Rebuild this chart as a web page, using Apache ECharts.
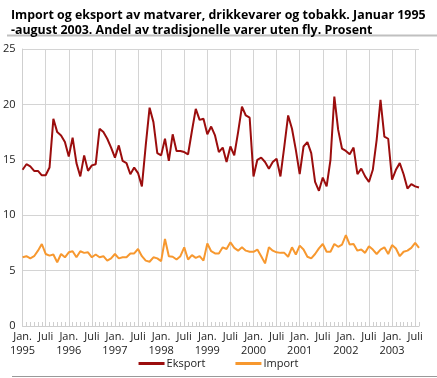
<!DOCTYPE html>
<html>
<head>
<meta charset="utf-8">
<script src="https://cdn.jsdelivr.net/npm/echarts@6/dist/echarts.min.js"></script>
<style>
html,body{margin:0;padding:0;background:#fff;}
#chart{width:437px;height:378px;}
</style>
</head>
<body>
<div id="chart"></div>
<script>
var years = ['1995','1996','1997','1998','1999','2000','2001','2002','2003'];
var monthsShort = ['Jan.','Feb.','Mars','April','Mai','Juni','Juli','Aug.','Sep.','Okt.','Nov.','Des.'];
var seriesNames = ['Eksport','Import'];

var eksport = [
  14.1, 14.6, 14.4, 14.0, 14.0, 13.6, 13.6, 14.3, 18.7, 17.5, 17.2, 16.6,
  15.3, 17.0, 14.7, 13.5, 15.4, 14.0, 14.5, 14.6, 17.8, 17.5, 16.9, 16.1,
  15.2, 16.3, 14.9, 14.7, 13.7, 14.3, 13.8, 12.6, 16.3, 19.7, 18.4, 15.6,
  15.4, 16.9, 14.9, 17.3, 15.8, 15.8, 15.7, 15.5, 17.6, 19.6, 18.6, 18.7,
  17.3, 18.0, 17.2, 15.7, 16.1, 14.8, 16.2, 15.4, 17.5, 19.8, 19.0, 18.8,
  13.5, 15.0, 15.2, 14.8, 14.2, 14.8, 15.1, 13.5, 16.2, 19.0, 17.8, 15.9,
  13.7, 16.2, 16.6, 15.6, 13.0, 12.2, 13.4, 12.6, 15.0, 20.7, 17.7, 16.0,
  15.8, 15.5, 16.1, 13.7, 14.2, 13.5, 13.0, 14.1, 16.8, 20.4, 17.1, 16.9,
  13.2, 14.1, 14.7, 13.7, 12.4, 12.8, 12.6, 12.5
];
var importData = [
  6.2, 6.3, 6.1, 6.3, 6.8, 7.4, 6.5, 6.35, 6.45, 5.75, 6.5, 6.2,
  6.65, 6.75, 6.2, 6.75, 6.6, 6.65, 6.2, 6.45, 6.2, 6.3, 5.9, 6.1,
  6.5, 6.1, 6.2, 6.2, 6.55, 6.55, 6.95, 6.3, 5.9, 5.8, 6.2, 6.1,
  5.85, 7.85, 6.3, 6.25, 6.0, 6.3, 7.1, 6.0, 6.4, 6.15, 6.3, 5.9,
  7.45, 6.75, 6.55, 6.55, 7.1, 6.95, 7.55, 7.05, 6.8, 7.1, 6.8, 6.7,
  6.7, 6.9, 6.3, 5.65, 7.1, 6.8, 6.65, 6.6, 6.6, 6.25, 7.1, 6.45,
  7.25, 6.9, 6.25, 6.1, 6.5, 7.0, 7.4, 6.7, 6.7, 7.4, 7.15, 7.35,
  8.2, 7.35, 7.4, 6.8, 6.9, 6.6, 7.2, 6.9, 6.5, 6.9, 7.1, 6.5,
  7.3, 7.0, 6.3, 6.7, 6.8, 7.05, 7.5, 7.05
];
var yTicks = [0, 5, 10, 15, 20, 25];

var categories = [];
for (var y = 0; y < years.length; y++) {
  for (var m = 0; m < 12; m++) {
    if (categories.length < eksport.length) categories.push(monthsShort[m] + ' ' + years[y]);
  }
}

var chart = echarts.init(document.getElementById('chart'), null, {renderer: 'canvas'});
var fontFamily = '"Open Sans", "Noto Sans", sans-serif';
chart.setOption({
  animation: false,
  textStyle: {fontFamily: fontFamily},
  title: {
    text: 'Import og eksport av matvarer, drikkevarer og tobakk. Januar 1995\n-august 2003. Andel av tradisjonelle varer uten fly. Prosent',
    left: 6, top: 3,
    textStyle: {fontFamily: fontFamily, fontSize: 12.4, fontWeight: 'bold', color: '#000', lineHeight: 15}
  },
  graphic: [
    {type: 'line', shape: {x1: 7, y1: 35.5, x2: 437, y2: 35.5}, style: {stroke: '#c0c0c0', lineWidth: 2}},
    {type: 'line', shape: {x1: 12, y1: 376.5, x2: 437, y2: 376.5}, style: {stroke: '#999', lineWidth: 1}}
  ],
  legend: {
    data: seriesNames,
    bottom: 4, left: 'center',
    icon: 'rect', itemWidth: 26, itemHeight: 3, itemGap: 30,
    textStyle: {fontFamily: fontFamily, fontSize: 11, color: '#222', padding: [0,0,0,-3]}
  },
  grid: {left: 21, right: 18, top: 49, bottom: 52, containLabel: false},
  xAxis: {
    type: 'category',
    data: categories,
    boundaryGap: false,
    axisLine: {show: true, lineStyle: {color: '#cfcfcf'}},
    axisTick: {show: true, interval: 0, inside: true, length: 4, lineStyle: {color: '#cfcfcf'}},
    splitLine: {show: true, interval: function (i) { return i % 6 === 0; }, lineStyle: {color: '#d4d4d4'}},
    axisLabel: {
      interval: function (i) { return i % 6 === 0; },
      formatter: function (v, i) {
        var parts = v.split(' ');
        if (parts[0] === 'Jan.') return 'Jan.\n' + parts[1];
        return 'Juli';
      },
      color: '#222', fontSize: 11, fontFamily: fontFamily, margin: 4, lineHeight: 14
    }
  },
  yAxis: {
    type: 'value', min: yTicks[0], max: yTicks[yTicks.length - 1], interval: 5,
    axisLine: {show: true, lineStyle: {color: '#cfcfcf'}},
    axisTick: {show: false},
    splitLine: {show: true, lineStyle: {color: '#d4d4d4'}},
    axisLabel: {color: '#222', fontSize: 11, fontFamily: fontFamily, margin: 7}
  },
  series: [
    {name: seriesNames[0], type: 'line', data: eksport, symbol: 'none', lineStyle: {color: '#9b0d0d', width: 2}, itemStyle: {color: '#9b0d0d'}},
    {name: seriesNames[1], type: 'line', data: importData, symbol: 'none', lineStyle: {color: '#f7982f', width: 2}, itemStyle: {color: '#f7982f'}}
  ]
});
</script>
</body>
</html>
